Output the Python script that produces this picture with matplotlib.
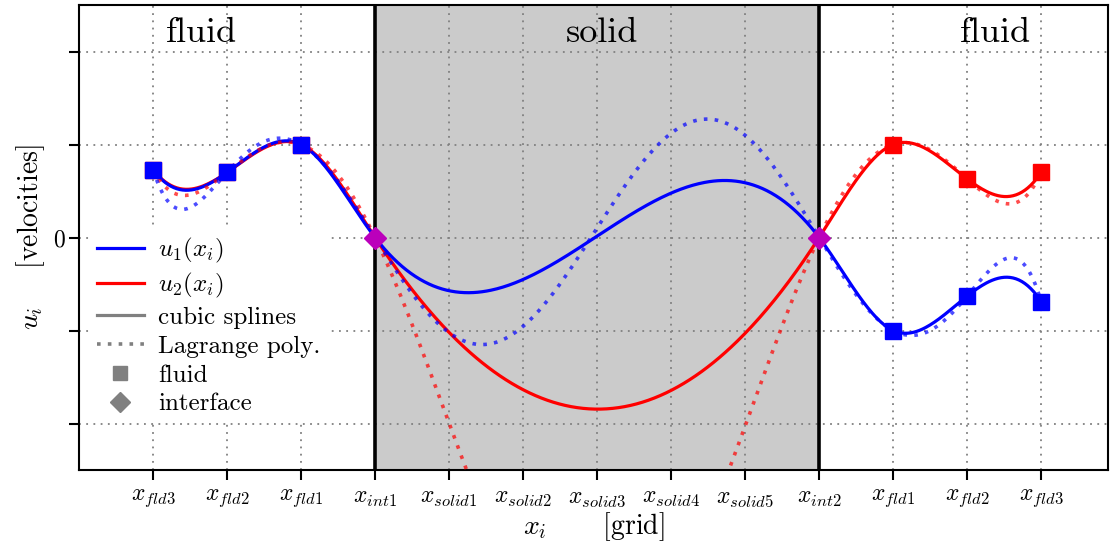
import numpy as np
import matplotlib
matplotlib.use("Agg")
import matplotlib.pyplot as plt
from matplotlib.lines import Line2D

plt.rcParams['font.family'] = 'serif'
plt.rcParams['font.serif'] = ['cmr10']
plt.rcParams['mathtext.fontset'] = 'cm'
plt.rcParams['axes.unicode_minus'] = False

# grid nodes (index positions) and labels
x_nodes = [0, 1, 2, 3, 4, 5, 6, 7, 8, 9, 10, 11, 12]
x_labels = [r"$x_{fld3}$", r"$x_{fld2}$", r"$x_{fld1}$", r"$x_{int1}$",
            r"$x_{solid1}$", r"$x_{solid2}$", r"$x_{solid3}$", r"$x_{solid4}$",
            r"$x_{solid5}$", r"$x_{int2}$", r"$x_{fld1}$", r"$x_{fld2}$", r"$x_{fld3}$"]

# known values (fluid + interface nodes)
x_known = [0, 1, 2, 3, 9, 10, 11, 12]
u1_known = [0.73, 0.70, 1.0, 0.0, 0.0, -1.0, -0.63, -0.69]
u2_known = [0.73, 0.70, 1.0, 0.0, 0.0, 1.0, 0.63, 0.70]

x_fluid = [0, 1, 2, 10, 11, 12]
x_int = [3, 9]


def spline_notaknot(xk, yk, xs):
    # cubic spline with not-a-knot ends, solved on the second derivatives M
    xk = np.asarray(xk, float)
    yk = np.asarray(yk, float)
    n = len(xk)
    h = np.diff(xk)
    A = np.zeros((n, n))
    b = np.zeros(n)
    # third derivative continuous at x1 and x_{n-2}
    A[0, 0] = 1 / h[0]
    A[0, 1] = -1 / h[0] - 1 / h[1]
    A[0, 2] = 1 / h[1]
    A[-1, -3] = 1 / h[-2]
    A[-1, -2] = -1 / h[-2] - 1 / h[-1]
    A[-1, -1] = 1 / h[-1]
    for i in range(1, n - 1):
        A[i, i - 1] = h[i - 1]
        A[i, i] = 2 * (h[i - 1] + h[i])
        A[i, i + 1] = h[i]
        b[i] = 6 * ((yk[i + 1] - yk[i]) / h[i] - (yk[i] - yk[i - 1]) / h[i - 1])
    M = np.linalg.solve(A, b)
    idx = np.clip(np.searchsorted(xk, xs) - 1, 0, n - 2)
    x0, x1 = xk[idx], xk[idx + 1]
    hi = x1 - x0
    t0 = x1 - xs
    t1 = xs - x0
    return (M[idx] * t0**3 / (6 * hi) + M[idx + 1] * t1**3 / (6 * hi)
            + (yk[idx] / hi - M[idx] * hi / 6) * t0
            + (yk[idx + 1] / hi - M[idx + 1] * hi / 6) * t1)


def lagrange(xk, yk, xs):
    out = np.zeros_like(xs)
    for j in range(len(xk)):
        term = np.full_like(xs, yk[j])
        for m in range(len(xk)):
            if m != j:
                term *= (xs - xk[m]) / (xk[j] - xk[m])
        out += term
    return out


xs = np.linspace(0, 12, 600)

fig = plt.figure(figsize=(11.1, 5.45), dpi=100)
ax = fig.add_axes([0.0712, 0.1376, 0.9268, 0.8532])

ax.axvspan(3, 9, color='#cbcbcb', zorder=0.1, lw=0)
ax.axvline(3, color='black', lw=2.6, zorder=1)
ax.axvline(9, color='black', lw=2.6, zorder=1)

ax.plot(xs, spline_notaknot(x_known, u2_known, xs), color='red', lw=2.3, zorder=2)
ax.plot(xs, spline_notaknot(x_known, u1_known, xs), color='blue', lw=2.3, zorder=2)
ax.plot(xs, lagrange(x_known, u2_known, xs), color='red', lw=2.6, ls=(0, (1, 2)),
        alpha=0.7, zorder=3)
ax.plot(xs, lagrange(x_known, u1_known, xs), color='blue', lw=2.6, ls=(0, (1, 2)),
        alpha=0.7, zorder=3)

u1_map = dict(zip(x_known, u1_known))
u2_map = dict(zip(x_known, u2_known))
ax.plot(x_fluid, [u2_map[x] for x in x_fluid], 's', color='red', ms=11.5, zorder=4)
ax.plot(x_fluid, [u1_map[x] for x in x_fluid], 's', color='blue', ms=11.5, zorder=4)
ax.plot(x_int, [u1_map[x] for x in x_int], 'D', color='#bb00bb', ms=11, zorder=5)

ax.text(0.65, 2.2, "fluid", fontsize=26, ha='center', va='center')
ax.text(6.07, 2.2, "solid", fontsize=26, ha='center', va='center')
ax.text(11.38, 2.2, "fluid", fontsize=26, ha='center', va='center')

ax.set_xlim(-1, 12.9)
ax.set_ylim(-2.5, 2.5)
ax.set_xticks(x_nodes)
ax.set_xticklabels(x_labels, fontsize=17)
ax.set_yticks([-2, -1, 0, 1, 2])
ax.set_yticklabels(["", "", "0", "", ""], fontsize=17)
ax.tick_params(direction='out', length=7, width=1.5)
ax.tick_params(axis='x', pad=5)
ax.grid(True, ls=(0, (1, 3)), color='gray', lw=1.3)
ax.set_axisbelow(True)
for s in ax.spines.values():
    s.set_linewidth(1.5)

ax.set_xlabel(r"$x_i$      [grid]", fontsize=20, labelpad=1)
ax.set_ylabel(r"$u_i$    [velocities]", fontsize=20)

handles = [
    Line2D([], [], color='blue', lw=2.3),
    Line2D([], [], color='red', lw=2.3),
    Line2D([], [], color='gray', lw=2.3),
    Line2D([], [], color='gray', lw=2.6, ls=(0, (1, 2))),
    Line2D([], [], color='gray', marker='s', ls='', ms=10),
    Line2D([], [], color='gray', marker='D', ls='', ms=10),
]
labels = [r"$u_1(x_i)$", r"$u_2(x_i)$", "cubic splines", "Lagrange poly.",
          "fluid", "interface"]
leg = ax.legend(handles, labels, loc='lower left', bbox_to_anchor=(0.0, 0.08),
                fontsize=18, frameon=True, framealpha=1, edgecolor='none',
                handlelength=1.9, handletextpad=0.55, labelspacing=0.25,
                borderpad=0.3, borderaxespad=0.4)
leg.set_zorder(6)

fig.savefig("out.png", dpi=100)
